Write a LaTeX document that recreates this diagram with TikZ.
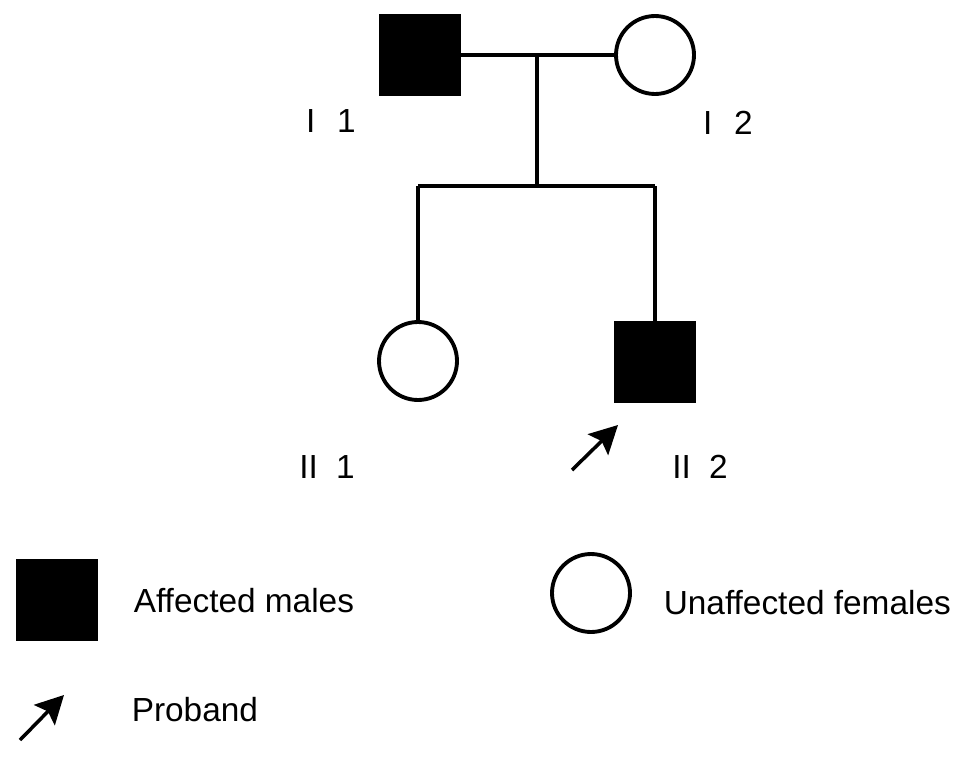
\documentclass[tikz,border=0pt]{standalone}
\usepackage{fontspec}
\setmainfont{Liberation Sans}
\usetikzlibrary{arrows.meta}
\tikzset{
  affected/.style={draw, fill=black, minimum size=1.58cm, inner sep=0pt},
  unaffected/.style={draw, circle, fill=white, minimum size=1.56cm, inner sep=0pt},
  lbl/.style={font=\fontsize{19}{22}\selectfont},
  proband/.style={-{Stealth[length=0.56cm, width=0.58cm, inset=0.1cm]}, line width=2pt}
}
\begin{document}
\begin{tikzpicture}[x=0.02cm, y=-0.02cm, line width=2.2pt]
  \useasboundingbox (0,0) rectangle (969,757);
  % generation I
  \node[affected] (I1) at (420,55) {};
  \node[unaffected] (I2) at (655,55) {};
  \draw (I1) -- (I2);
  \coordinate (mate) at (537,55); \coordinate (sib) at (537,186);
  \draw (mate) -- (sib);
  % generation II
  \node[unaffected] (II1) at (418,361) {};
  \node[affected] (II2) at (655,362) {};
  \coordinate (sibL) at (418,186); \coordinate (sibR) at (655,186);
  \draw (sibL) -- (sibR);
  \draw (sibL) -- (II1);
  \draw (sibR) -- (II2);
  \coordinate (pb) at (572,470); \coordinate (pt) at (618,425);
  \draw[proband] (pb) -- (pt);
  % labels
  \node[lbl] (lI1) at (331,121) {I\hspace{0.65em}1};
  \node[lbl] (lI2) at (728,123) {I\hspace{0.65em}2};
  \node[lbl] (lII1) at (327,467) {II\hspace{0.55em}1};
  \node[lbl] (lII2) at (700,467) {II\hspace{0.55em}2};
  % legend
  \node[affected] (keyM) at (57,600) {};
  \node[lbl, anchor=west] (keyMt) at (126,601) {Affected males};
  \node[unaffected] (keyF) at (591,593) {};
  \node[lbl, anchor=west] (keyFt) at (656,603) {Unaffected females};
  \coordinate (kb) at (20,740); \coordinate (kt) at (64,695);
  \draw[proband] (kb) -- (kt);
  \node[lbl, anchor=west] (keyPt) at (124,710) {Proband};
\end{tikzpicture}
\end{document}
